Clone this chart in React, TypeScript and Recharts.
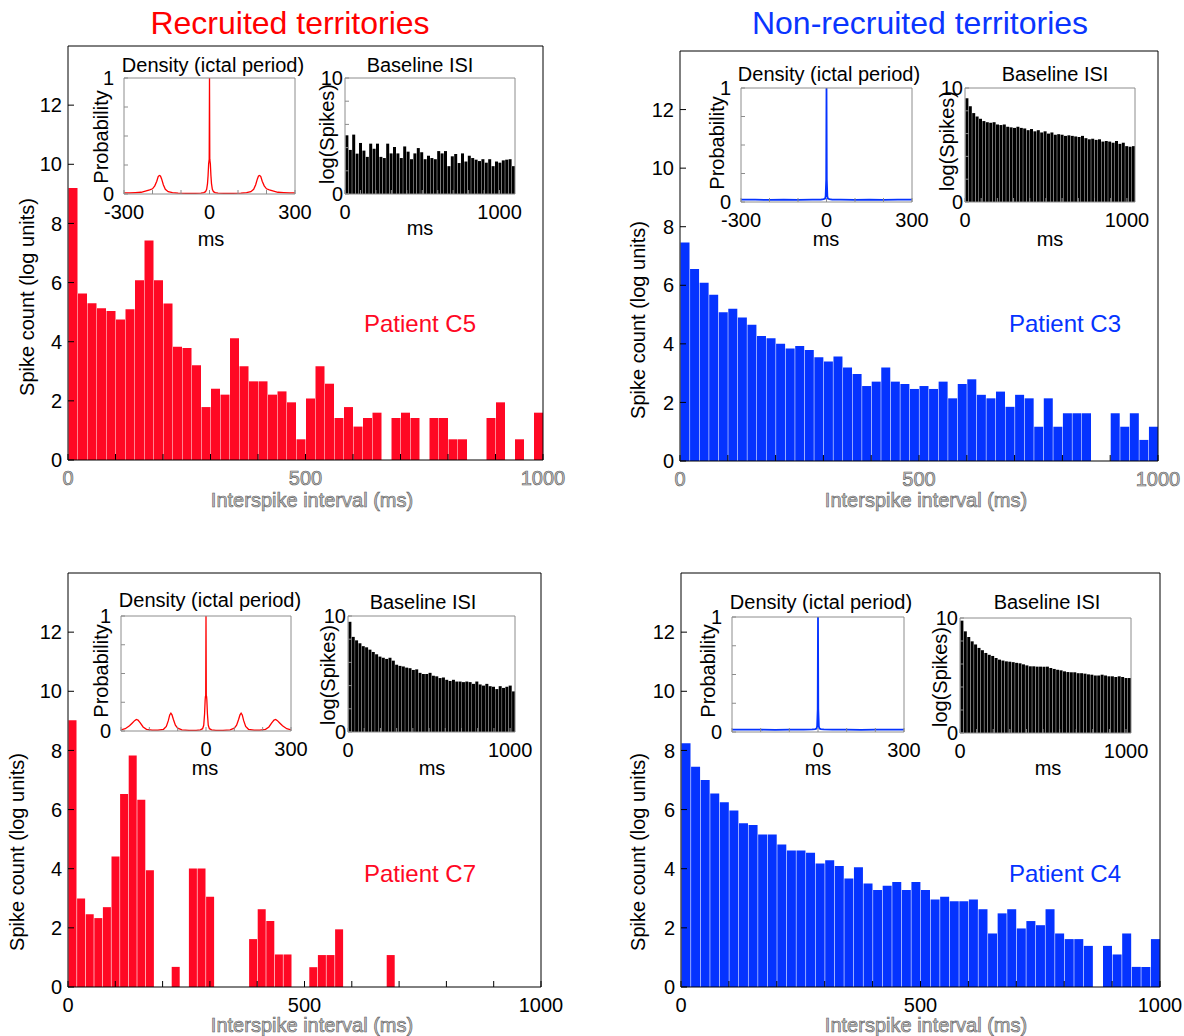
import React from 'react';
import { BarChart, Bar, XAxis, YAxis, LineChart, Line } from 'recharts';

const FONT = '"Liberation Sans", Arial, Helvetica, sans-serif';
const RED = '#ff0824';
const BLUE = '#0533ff';
const TITLE_RED = '#ff0000';
const TITLE_BLUE = '#0a35ff';

// ---------- main histograms: spike count in log units per ISI bin ----------
const bins50 = Array.from({ length: 50 }, (_, i) => (i + 0.5) * 20); // 20 ms bins
const bins55 = Array.from({ length: 55 }, (_, i) => ((i + 0.5) * 1000) / 55); // C7 uses narrower bins
const mainXTicks = [0, 100, 200, 300, 400, 500, 600, 700, 800, 900, 1000];
const mainYTicks = [0, 2, 4, 6, 8, 10, 12];

const c5Counts = [
  9.2, 5.63, 5.3, 5.13, 5.04, 4.75, 5.1, 6.08, 7.42, 6.08,
  5.29, 3.83, 3.79, 3.2, 1.79, 2.41, 2.21, 4.12, 3.17, 2.66,
  2.66, 2.21, 2.32, 1.95, 0.7, 2.08, 3.17, 2.58, 1.42, 1.79,
  1.13, 1.42, 1.6, 0, 1.42, 1.6, 1.42, 0, 1.42, 1.42,
  0.7, 0.7, 0, 0, 1.42, 1.95, 0, 0.7, 0, 1.6,
];
const c3Counts = [
  7.46, 6.56, 6.09, 5.68, 5.08, 5.2, 4.9, 4.65, 4.27, 4.19,
  4.0, 3.84, 3.93, 3.79, 3.54, 3.4, 3.57, 3.19, 2.97, 2.56,
  2.71, 3.19, 2.71, 2.63, 2.46, 2.56, 2.46, 2.71, 2.14, 2.63,
  2.79, 2.26, 2.14, 2.37, 1.85, 2.26, 2.14, 1.17, 2.14, 1.17,
  1.63, 1.63, 1.63, 0, 0, 1.63, 1.17, 1.63, 0.72, 1.17,
];
const c7Counts = [
  9.02, 2.99, 2.46, 2.33, 2.7, 4.41, 6.53, 7.83, 6.33, 3.95,
  0, 0, 0.68, 0, 4.01, 4.01, 3.05, 0, 0, 0,
  0, 1.62, 2.63, 2.23, 1.1, 1.1, 0, 0, 0.67, 1.08,
  1.08, 1.95, 0, 0, 0, 0, 0, 1.08, 0, 0,
  0, 0, 0, 0, 0, 0, 0, 0, 0, 0,
  0, 0, 0, 0, 0,
];
const c4Counts = [
  8.24, 7.45, 7.0, 6.54, 6.25, 5.97, 5.54, 5.48, 5.16, 5.16,
  4.82, 4.62, 4.62, 4.54, 4.18, 4.29, 4.09, 3.67, 4.05, 3.5,
  3.28, 3.42, 3.55, 3.28, 3.55, 3.28, 2.96, 3.05, 2.9, 2.9,
  2.96, 2.63, 1.81, 2.49, 2.63, 1.98, 2.23, 2.09, 2.63, 1.81,
  1.62, 1.62, 1.39, 0, 1.39, 1.1, 1.81, 0.68, 0.68, 1.62,
];

// ---------- baseline ISI insets: log(spikes), 50 bins ----------
const c5Baseline = [
  5.06, 3.8, 5.12, 3.48, 4.4, 3.74, 3.2, 4.34, 3.9, 4.34,
  3.2, 3.1, 4.34, 3.5, 4.05, 3.5, 3.1, 4.1, 3.65, 3.0,
  3.5, 3.96, 3.6, 3.0, 3.3, 3.1, 3.0, 3.7, 3.5, 3.7,
  2.4, 3.25, 3.45, 2.67, 3.5, 2.8, 3.3, 3.1, 2.96, 2.84,
  3.0, 2.7, 3.0, 2.4, 2.8, 2.7, 2.9, 2.96, 3.0, 2.4,
];
const c3Baseline = [
  9.1, 8.4, 7.8, 7.5, 7.3, 7.1, 7.0, 6.95, 7.0, 6.8,
  6.75, 6.8, 6.6, 6.55, 6.5, 6.6, 6.5, 6.45, 6.3, 6.4,
  6.2, 6.3, 6.1, 6.2, 6.0, 6.1, 5.9, 5.95, 5.9, 5.8,
  5.85, 5.8, 5.75, 5.7, 5.8, 5.6, 5.5, 5.55, 5.45, 5.5,
  5.3, 5.35, 5.3, 5.2, 5.35, 5.1, 5.2, 4.9, 4.85, 4.9,
];
const c7Baseline = [
  9.5, 8.2, 7.9, 7.65, 7.4, 7.3, 7.1, 6.9, 6.7, 6.5,
  6.4, 6.3, 6.4, 6.15, 5.8, 5.7, 5.65, 5.55, 5.5, 5.35,
  5.4, 5.1, 5.0, 5.0, 5.1, 4.85, 4.8, 4.65, 4.7, 4.5,
  4.4, 4.5, 4.35, 4.35, 4.3, 4.35, 4.3, 4.15, 4.35, 4.1,
  4.0, 4.15, 3.95, 3.9, 3.7, 3.95, 3.8, 3.9, 4.0, 3.5,
];
const c4Baseline = [
  9.77, 8.84, 8.35, 7.97, 7.7, 7.4, 7.2, 6.96, 6.8, 6.7,
  6.52, 6.38, 6.3, 6.23, 6.2, 6.16, 6.1, 6.06, 5.97, 5.88,
  5.8, 5.8, 5.77, 5.77, 5.77, 5.77, 5.65, 5.57, 5.5, 5.45,
  5.36, 5.3, 5.28, 5.28, 5.2, 5.2, 5.16, 5.1, 5.07, 5.0,
  5.0, 5.07, 5.0, 4.93, 4.93, 4.87, 4.93, 4.87, 4.78, 4.78,
];

// ---------- density (ictal period) insets ----------
const c5DensityT = [-300, -280, -260, -240, -225, -210, -200, -192, -185, -180, -176, -172, -168, -162, -155, -145, -130, -110, -80, -50, -30, -20, -14, -10, -7, -5, -3, -2, -1, 0, 1, 2, 3, 5, 7, 10, 14, 20, 30, 50, 80, 110, 130, 145, 155, 162, 168, 172, 176, 180, 185, 192, 200, 210, 225, 240, 260, 280, 300];
const c5DensityP = [0.01, 0.01, 0.012, 0.015, 0.025, 0.035, 0.045, 0.07, 0.11, 0.15, 0.16, 0.155, 0.13, 0.08, 0.04, 0.02, 0.012, 0.008, 0.006, 0.006, 0.008, 0.012, 0.02, 0.04, 0.09, 0.16, 0.26, 0.28, 0.3, 1.0, 0.3, 0.28, 0.26, 0.16, 0.09, 0.04, 0.02, 0.012, 0.008, 0.006, 0.006, 0.008, 0.012, 0.02, 0.04, 0.08, 0.13, 0.155, 0.16, 0.15, 0.11, 0.07, 0.045, 0.035, 0.025, 0.015, 0.012, 0.01, 0.01];

const c7DensityT = [-300, -285, -270, -260, -252, -246, -240, -232, -222, -210, -190, -170, -150, -140, -133, -128, -124, -120, -115, -108, -100, -85, -60, -35, -20, -12, -8, -5, -3, -2, -1, 0, 1, 2, 3, 5, 8, 12, 20, 35, 60, 85, 100, 108, 115, 120, 124, 128, 133, 140, 150, 170, 190, 210, 222, 232, 240, 246, 252, 260, 270, 285, 300];
const c7DensityP = [0.01, 0.02, 0.045, 0.07, 0.09, 0.1, 0.095, 0.07, 0.035, 0.015, 0.008, 0.008, 0.015, 0.04, 0.09, 0.14, 0.155, 0.14, 0.1, 0.05, 0.025, 0.01, 0.006, 0.006, 0.01, 0.02, 0.05, 0.15, 0.27, 0.3, 0.31, 1.0, 0.31, 0.3, 0.27, 0.15, 0.05, 0.02, 0.01, 0.006, 0.006, 0.01, 0.025, 0.05, 0.1, 0.14, 0.155, 0.14, 0.09, 0.04, 0.015, 0.008, 0.008, 0.015, 0.035, 0.07, 0.095, 0.1, 0.09, 0.07, 0.045, 0.02, 0.01];

const flatDensityT = [-300, -250, -200, -150, -100, -50, -20, -10, -5, -3, -1, 0, 1, 3, 5, 10, 20, 50, 100, 150, 200, 250, 300];
const c3DensityP = [0.02, 0.02, 0.018, 0.02, 0.018, 0.02, 0.02, 0.025, 0.03, 0.05, 0.2, 1.0, 0.2, 0.05, 0.03, 0.025, 0.02, 0.02, 0.018, 0.02, 0.018, 0.02, 0.02];
const c4DensityP = [0.02, 0.02, 0.02, 0.018, 0.02, 0.02, 0.022, 0.025, 0.03, 0.05, 0.2, 1.0, 0.2, 0.05, 0.03, 0.025, 0.022, 0.02, 0.02, 0.018, 0.02, 0.02, 0.02];

const densityXTicks = [-300, -200, -100, 0, 100, 200, 300];
const densityYTicks = [0, 0.25, 0.5, 0.75, 1];
const isiXTicks = [0, 100, 200, 300, 400, 500, 600, 700, 800, 900, 1000];
const isiYTicks = [0, 2, 4, 6, 8, 10];

type Box = { x: number; y: number; w: number; h: number };

function MainPanel(props: { box: Box; bins: number[]; values: number[]; color: string; grayTicks: boolean }) {
  const { box, bins, values, color, grayTicks } = props;
  const data = bins.map((b, i) => ({ bin: b, v: values[i] }));
  const pad = { top: 20, left: 50, right: 30, bottom: 35 };
  const tickStyle = grayTicks
    ? { fill: '#c6c6c6', stroke: '#585858', strokeWidth: 0.6, fontSize: 20, fontFamily: FONT }
    : { fill: '#000', stroke: 'none', fontSize: 20, fontFamily: FONT };
  return (
    <div style={{ position: 'absolute', left: box.x - pad.left, top: box.y - pad.top }}>
      <BarChart
        width={box.w + pad.left + pad.right}
        height={box.h + pad.top + pad.bottom}
        data={data}
        margin={{ top: pad.top - 1, left: pad.left - 1, right: pad.right - 1, bottom: pad.bottom - 1 }}
        barCategoryGap={0.5}
      >
        <XAxis xAxisId="cat" dataKey="bin" type="category" hide />
        <XAxis xAxisId="b" dataKey="bin" type="number" domain={[0, 1000]} ticks={mainXTicks} interval={0}
          tickFormatter={(v: number) => (v % 500 === 0 ? String(v) : '')}
          height={1} tickSize={-6} tickMargin={17} stroke="#000" tick={tickStyle} allowDataOverflow />
        <XAxis xAxisId="t" dataKey="bin" orientation="top" type="number" domain={[0, 1000]} ticks={mainXTicks} interval={0}
          tick={false} height={1} tickSize={-6} stroke="#000" allowDataOverflow />
        <YAxis yAxisId="l" type="number" domain={[0, 14]} ticks={mainYTicks} interval={0} width={1}
          tickSize={-6} tickMargin={12} stroke="#000" tick={{ fill: '#000', fontSize: 20, fontFamily: FONT }} allowDataOverflow />
        <YAxis yAxisId="r" orientation="right" type="number" domain={[0, 14]} ticks={mainYTicks} interval={0} width={1}
          tick={false} tickSize={-6} stroke="#000" allowDataOverflow />
        <Bar xAxisId="cat" yAxisId="l" dataKey="v" fill={color} isAnimationActive={false} />
      </BarChart>
    </div>
  );
}

function DensityInset(props: { box: Box; t: number[]; p: number[]; color: string; labels: number[]; width: number }) {
  const { box, t, p, color, labels, width } = props;
  const data = t.map((tt, i) => ({ t: tt, p: p[i] }));
  const pad = { top: 12, left: 45, right: 30, bottom: 30 };
  return (
    <div style={{ position: 'absolute', left: box.x - pad.left, top: box.y - pad.top }}>
      <LineChart
        width={box.w + pad.left + pad.right}
        height={box.h + pad.top + pad.bottom}
        data={data}
        margin={{ top: pad.top - 1, left: pad.left - 1, right: pad.right - 1, bottom: pad.bottom - 1 }}
      >
        <XAxis xAxisId="b" dataKey="t" type="number" domain={[-300, 300]} ticks={densityXTicks} interval={0}
          tickFormatter={(v: number) => (labels.includes(v) ? String(v) : '')}
          height={1} tickSize={-4} tickMargin={15} stroke="#8c8c8c"
          tick={{ fill: '#000', fontSize: 20, fontFamily: FONT }} allowDataOverflow />
        <XAxis xAxisId="t" orientation="top" dataKey="t" type="number" domain={[-300, 300]} ticks={densityXTicks} interval={0}
          tick={false} height={1} tickSize={-4} stroke="#8c8c8c" allowDataOverflow />
        <YAxis yAxisId="l" dataKey="p" type="number" domain={[0, 1]} ticks={densityYTicks} interval={0} width={1}
          tickFormatter={(v: number) => (v === 0 ? '0' : v === 1 ? '1' : '')}
          tickSize={-4} tickMargin={14} stroke="#8c8c8c" tick={{ fill: '#000', fontSize: 20, fontFamily: FONT }} allowDataOverflow />
        <YAxis yAxisId="r" dataKey="p" orientation="right" type="number" domain={[0, 1]} ticks={densityYTicks} interval={0} width={1}
          tick={false} tickSize={-4} stroke="#8c8c8c" allowDataOverflow />
        <Line xAxisId="b" yAxisId="l" dataKey="p" type="linear" stroke={color} strokeWidth={width} dot={false} isAnimationActive={false} />
      </LineChart>
    </div>
  );
}

function BaselineInset(props: { box: Box; values: number[]; xMax: number }) {
  const { box, values, xMax } = props;
  const data = values.map((v, i) => ({ ms: ((i + 0.5) * xMax) / values.length, v }));
  const pad = { top: 12, left: 45, right: 32, bottom: 30 };
  return (
    <div style={{ position: 'absolute', left: box.x - pad.left, top: box.y - pad.top }}>
      <BarChart
        width={box.w + pad.left + pad.right}
        height={box.h + pad.top + pad.bottom}
        data={data}
        margin={{ top: pad.top - 1, left: pad.left - 1, right: pad.right - 1, bottom: pad.bottom - 1 }}
        barCategoryGap={0.4}
      >
        <XAxis xAxisId="cat" dataKey="ms" type="category" hide />
        <XAxis xAxisId="b" dataKey="ms" type="number" domain={[0, xMax]} ticks={isiXTicks} interval={0}
          tickFormatter={(v: number) => (v === 0 || v === 1000 ? String(v) : '')}
          height={1} tickSize={-4} tickMargin={15} stroke="#8c8c8c"
          tick={{ fill: '#000', fontSize: 20, fontFamily: FONT }} allowDataOverflow />
        <XAxis xAxisId="t" dataKey="ms" orientation="top" type="number" domain={[0, xMax]} ticks={isiXTicks} interval={0}
          tick={false} height={1} tickSize={-4} stroke="#8c8c8c" allowDataOverflow />
        <YAxis yAxisId="l" type="number" domain={[0, 10]} ticks={isiYTicks} interval={0} width={1}
          tickFormatter={(v: number) => (v === 0 ? '0' : v === 10 ? '10' : '')}
          tickSize={-4} tickMargin={6} stroke="#8c8c8c" tick={{ fill: '#000', fontSize: 20, fontFamily: FONT }} allowDataOverflow />
        <YAxis yAxisId="r" orientation="right" type="number" domain={[0, 10]} ticks={isiYTicks} interval={0} width={1}
          tick={false} tickSize={-4} stroke="#8c8c8c" allowDataOverflow />
        <Bar xAxisId="cat" yAxisId="l" dataKey="v" fill="#000" isAnimationActive={false} />
      </BarChart>
    </div>
  );
}

type T = { s: string; x: number; y: number; size?: number; color?: string; rot?: boolean; gray?: boolean };

const texts: T[] = [
  { s: 'Recruited territories', x: 290, y: 23, size: 32, color: TITLE_RED },
  { s: 'Non-recruited territories', x: 920, y: 23, size: 32, color: TITLE_BLUE },
  { s: 'Spike count (log units)', x: 27, y: 297, rot: true },
  { s: 'Spike count (log units)', x: 638, y: 320, rot: true },
  { s: 'Spike count (log units)', x: 17, y: 852, rot: true },
  { s: 'Spike count (log units)', x: 638, y: 852, rot: true },
  { s: 'Interspike interval (ms)', x: 312, y: 500, gray: true },
  { s: 'Interspike interval (ms)', x: 926, y: 500, gray: true },
  { s: 'Interspike interval (ms)', x: 312, y: 1025, gray: true },
  { s: 'Interspike interval (ms)', x: 926, y: 1025, gray: true },
  { s: 'Patient C5', x: 420, y: 323, size: 24, color: RED },
  { s: 'Patient C3', x: 1065, y: 323, size: 24, color: BLUE },
  { s: 'Patient C7', x: 420, y: 873, size: 24, color: RED },
  { s: 'Patient C4', x: 1065, y: 873, size: 24, color: BLUE },
  { s: 'Density (ictal period)', x: 213, y: 65 },
  { s: 'Density (ictal period)', x: 829, y: 74 },
  { s: 'Density (ictal period)', x: 210, y: 600 },
  { s: 'Density (ictal period)', x: 821, y: 602 },
  { s: 'Baseline ISI', x: 420, y: 65 },
  { s: 'Baseline ISI', x: 1055, y: 74 },
  { s: 'Baseline ISI', x: 423, y: 602 },
  { s: 'Baseline ISI', x: 1047, y: 602 },
  { s: 'Probability', x: 101, y: 137, rot: true },
  { s: 'Probability', x: 717, y: 143, rot: true },
  { s: 'Probability', x: 101, y: 671, rot: true },
  { s: 'Probability', x: 708, y: 671, rot: true },
  { s: 'log(Spikes)', x: 327, y: 134, rot: true },
  { s: 'log(Spikes)', x: 947, y: 141, rot: true },
  { s: 'log(Spikes)', x: 328, y: 675, rot: true },
  { s: 'log(Spikes)', x: 940, y: 677, rot: true },
  { s: 'ms', x: 211, y: 239 },
  { s: 'ms', x: 826, y: 239 },
  { s: 'ms', x: 205, y: 768 },
  { s: 'ms', x: 818, y: 768 },
  { s: 'ms', x: 420, y: 228 },
  { s: 'ms', x: 1050, y: 239 },
  { s: 'ms', x: 432, y: 768 },
  { s: 'ms', x: 1048, y: 768 },
];

function Overlay() {
  return (
    <svg width={1184} height={1036} style={{ position: 'absolute', left: 0, top: 0, pointerEvents: 'none' }}>
      {texts.map((t, i) => (
        <text
          key={i}
          x={0}
          y={0}
          transform={`translate(${t.x},${t.y})${t.rot ? ' rotate(-90)' : ''}`}
          textAnchor="middle"
          dominantBaseline="central"
          fontFamily={FONT}
          fontSize={t.size ?? 20}
          fill={t.gray ? '#c6c6c6' : t.color ?? '#000'}
          stroke={t.gray ? '#585858' : 'none'}
          strokeWidth={t.gray ? 0.6 : 0}
        >
          {t.s}
        </text>
      ))}
    </svg>
  );
}

export default function App() {
  return (
    <div style={{ position: 'absolute', left: 0, top: 0, width: 1184, height: 1036, background: '#fff', fontFamily: FONT }}>
      <MainPanel box={{ x: 68, y: 46, w: 475, h: 414 }} bins={bins50} values={c5Counts} color={RED} grayTicks />
      <MainPanel box={{ x: 680, y: 51, w: 478, h: 410 }} bins={bins50} values={c3Counts} color={BLUE} grayTicks />
      <MainPanel box={{ x: 68, y: 573, w: 473, h: 414 }} bins={bins55} values={c7Counts} color={RED} grayTicks={false} />
      <MainPanel box={{ x: 681, y: 573, w: 479, h: 414 }} bins={bins50} values={c4Counts} color={BLUE} grayTicks={false} />

      <DensityInset box={{ x: 124, y: 78, w: 171, h: 116 }} t={c5DensityT} p={c5DensityP} color={TITLE_RED} labels={[-300, 0, 300]} width={1.3} />
      <DensityInset box={{ x: 741, y: 88, w: 171, h: 114 }} t={flatDensityT} p={c3DensityP} color={BLUE} labels={[-300, 0, 300]} width={1.8} />
      <DensityInset box={{ x: 121, y: 616, w: 170, h: 115 }} t={c7DensityT} p={c7DensityP} color={TITLE_RED} labels={[0, 300]} width={1.3} />
      <DensityInset box={{ x: 732, y: 617, w: 172, h: 115 }} t={flatDensityT} p={c4DensityP} color={BLUE} labels={[0, 300]} width={1.8} />

      <BaselineInset box={{ x: 345, y: 78, w: 170, h: 116 }} values={c5Baseline} xMax={1100} />
      <BaselineInset box={{ x: 965, y: 88, w: 170, h: 114 }} values={c3Baseline} xMax={1050} />
      <BaselineInset box={{ x: 348, y: 616, w: 167, h: 116 }} values={c7Baseline} xMax={1030} />
      <BaselineInset box={{ x: 960, y: 618, w: 171, h: 115 }} values={c4Baseline} xMax={1030} />

      <Overlay />
    </div>
  );
}
